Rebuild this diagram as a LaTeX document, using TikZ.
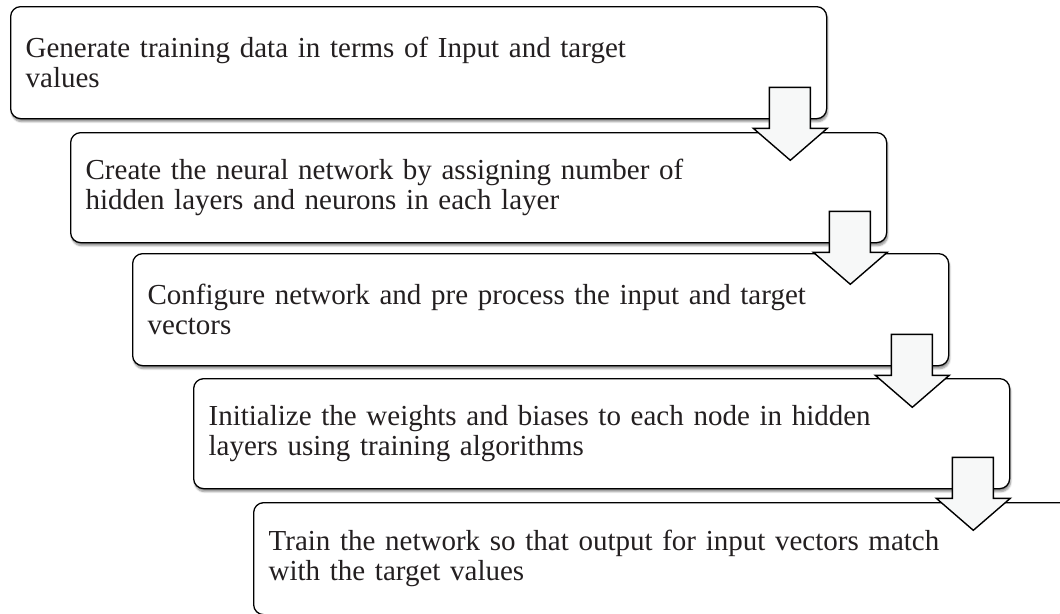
\documentclass[tikz,border=0pt]{standalone}
\usepackage{fontspec}
\setmainfont{Liberation Serif}
\usetikzlibrary{shadows.blur}
\definecolor{ink}{HTML}{231F20}
\definecolor{arrowfill}{HTML}{F7F8F8}
\tikzset{
  stepbox/.style={draw=black, line width=1.3pt, rounded corners=10pt, fill=white,
    anchor=north west, minimum width=816pt, minimum height=112pt,
    text width=786pt, inner xsep=15pt, align=left, text=ink,
    font=\fontsize{29pt}{30pt}\selectfont,
    blur shadow={shadow xshift=1pt, shadow yshift=-3pt, shadow blur steps=6, shadow opacity=45}},
  blockarrow/.style={draw=black, line width=1.4pt, fill=arrowfill, line join=miter},
  pics/flowarrow/.style={code={
    \draw[blockarrow] (-58,-32) -- (-17,-32) -- (-17,9) -- (0,9) -- (-37,41)
      -- (-74,9) -- (-58,9) -- cycle;
  }}
}
\begin{document}
\begin{tikzpicture}[x=1pt, y=-1pt]
\useasboundingbox (0,0) rectangle (1060,613);
\begin{scope}
\clip (0,0) rectangle (1060,613);
\node[stepbox] (s1) at (10,6) {Generate training data in terms of Input and target\\values};
\node[stepbox, minimum height=110pt] (s2) at (70,132) {Create the neural network by assigning number of\\hidden layers and neurons in each layer};
\node[stepbox] (s3) at (132,253) {Configure network and pre process the input and target\\vectors};
\node[stepbox, minimum height=110pt] (s4) at (193,378) {Initialize the weights and biases to each node in hidden\\layers using training algorithms};
\node[stepbox, blur shadow={shadow opacity=0}] (s5) at (253,502) {Train the network so that output for input vectors match\\with the target values};
\pic at (s1.south east) {flowarrow};
\pic at (s2.south east) {flowarrow};
\pic at (s3.south east) {flowarrow};
\pic at (s4.south east) {flowarrow};
\end{scope}
\end{tikzpicture}
\end{document}
